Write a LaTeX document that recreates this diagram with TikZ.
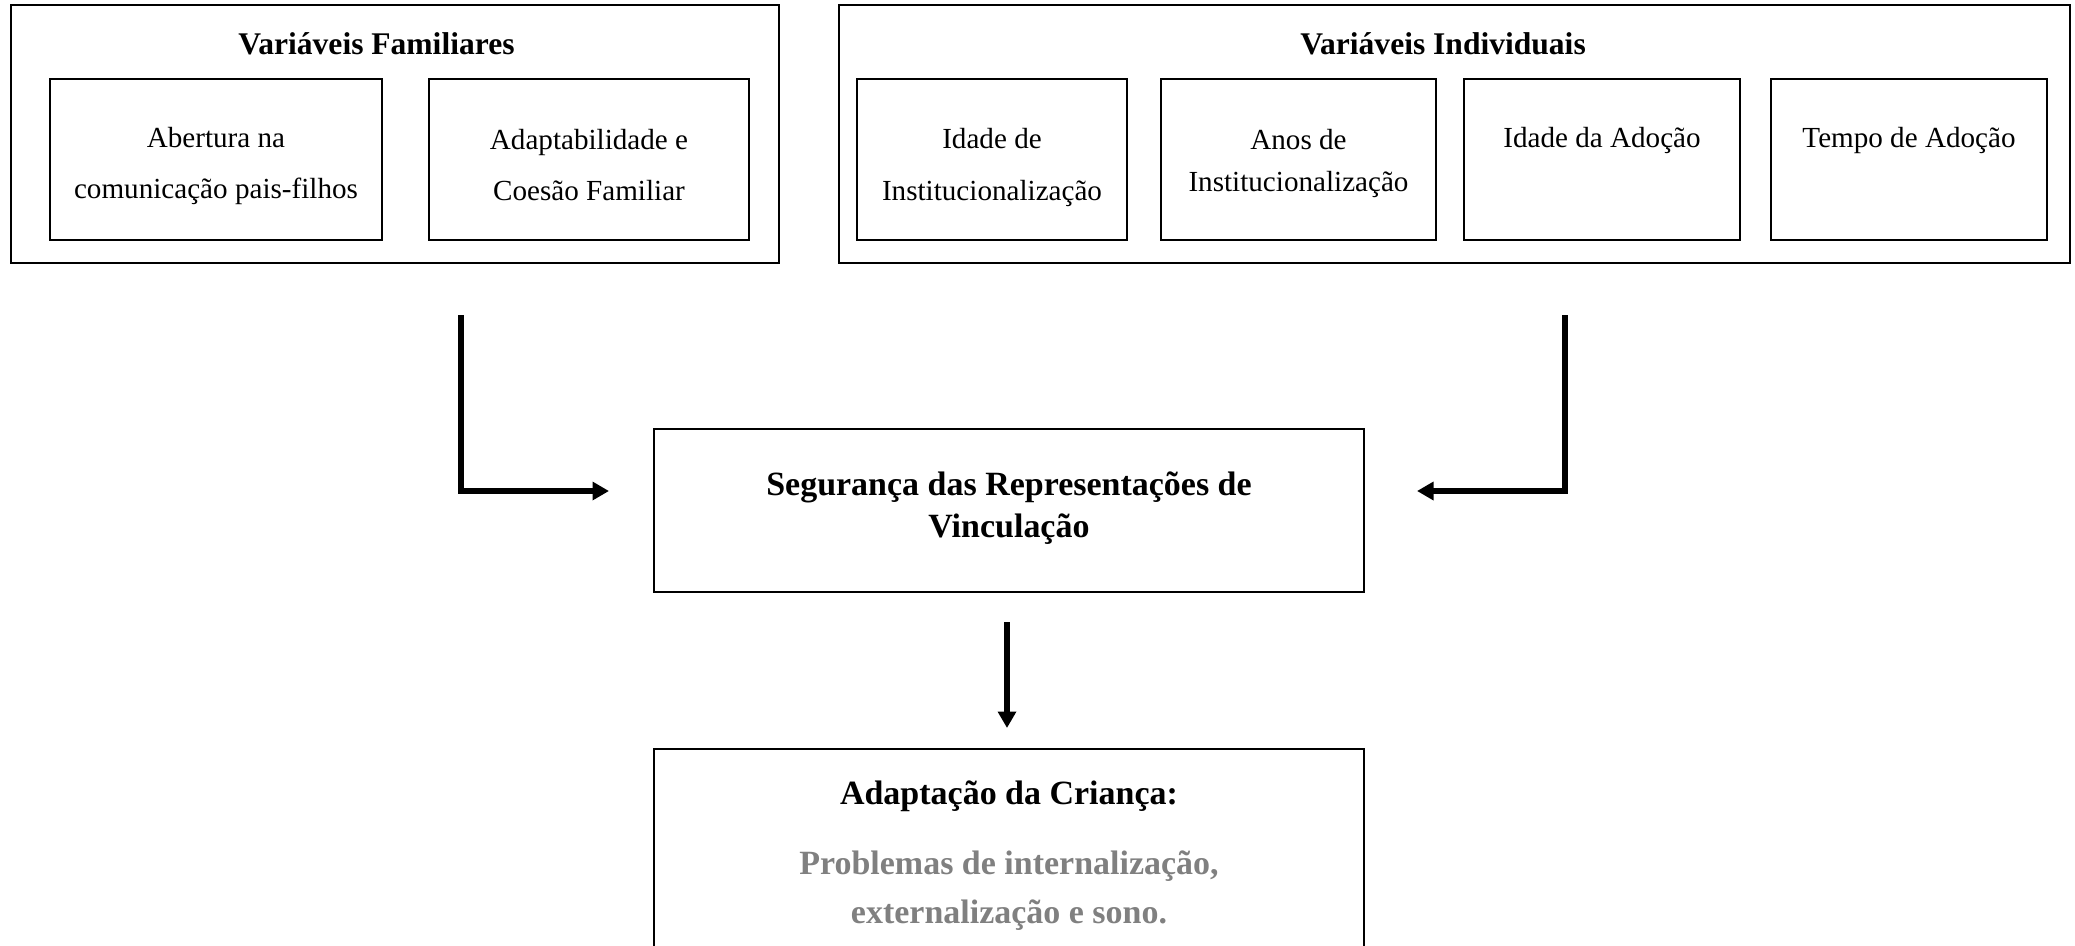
\documentclass[tikz,border=0pt]{standalone}
\usepackage{fontspec}
\setmainfont{Liberation Serif}
\usetikzlibrary{arrows.meta}
\definecolor{probgray}{RGB}{128,128,128}
\tikzset{
  box/.style 2 args={draw, line width=0.8pt, inner sep=0pt,
    minimum width=#1*0.412pt, minimum height=#2*0.412pt},
  vartext/.style={font=\fontsize{12}{21}\selectfont, align=center},
  grouptitle/.style={font=\fontsize{13}{15}\selectfont\bfseries},
  maintext/.style={font=\fontsize{14}{17.3}\selectfont\bfseries, align=center},
  flow/.style={line width=2.5pt, -{Triangle[length=6.8pt, width=7.3pt]}}
}

\begin{document}
\begin{tikzpicture}[x=0.412pt, y=-0.412pt]
\clip (0,0) rectangle (2075,945);
\useasboundingbox (0,0) rectangle (2075,945);

\node [box={768}{258}] (famouter) at (395,134) {};
\node [grouptitle] (famtitle) at (376.5,44) {Variáveis Familiares};
\node [box={332}{161}] (abertura) at (216,159.5) {};
\node [vartext] (abertxt) at (216,166) {Abertura na\\comunicação pais-filhos};
\node [box={320}{161}] (coesao) at (589,159.5) {};
\node [vartext] (coesaotxt) at (589,165) {Adaptabilidade e\\Coesão Familiar};

\node [box={1231}{258}] (indouter) at (1454.5,134) {};
\node [grouptitle] (indtitle) at (1443,44) {Variáveis Individuais};
\node [box={270}{161}] (idadeinst) at (992,159.5) {};
\node [vartext, font=\fontsize{12}{21.8}\selectfont] (idadeinsttxt) at (992,167.5) {Idade de\\Institucionalização};
\node [box={275}{161}] (anosinst) at (1298.5,159.5) {};
\node [vartext, font=\fontsize{12}{17.3}\selectfont] (anosinsttxt) at (1298.5,163) {Anos de\\Institucionalização};
\node [box={276}{161}] (idadeadoc) at (1602,159.5) {};
\node [vartext] (idadeadoctxt) at (1602,140) {Idade da Adoção};
\node [box={276}{161}] (tempoadoc) at (1909,159.5) {};
\node [vartext] (tempoadoctxt) at (1909,140) {Tempo de Adoção};

\node [box={710}{163}] (seguranca) at (1009,510.5) {};
\node [maintext] (segurancatxt) at (1009,508.5) {Segurança das Representações de\\Vinculação};

\node [box={710}{242}] (adaptacao) at (1009,870) {};
\node [maintext] (adapttitle) at (1009,796) {Adaptação da Criança:};
\node [maintext, text=probgray, font=\fontsize{14}{20.2}\selectfont\bfseries] (problemas) at (1009,891) {Problemas de internalização,\\externalização e sono.};

\coordinate (lstart) at (461,315);
\coordinate (lend) at (609,491);
\coordinate (rstart) at (1565,315);
\coordinate (rend) at (1417,491);
\coordinate (dstart) at (1007,622);
\coordinate (dend) at (1007,728);

\draw [flow] (lstart) |- (lend);
\draw [flow] (rstart) |- (rend);
\draw [flow] (dstart) -- (dend);
\end{tikzpicture}
\end{document}
